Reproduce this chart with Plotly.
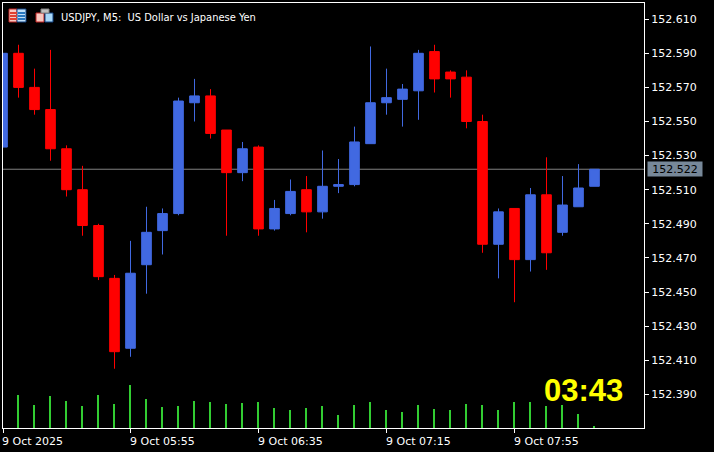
import pandas as pd
import plotly.graph_objects as go

W, H = 714, 452
L, R, T, B = 3, 644, 3, 428

times = pd.date_range("2025-10-09 05:15", periods=38, freq="5min")
opens = [152.535, 152.590, 152.570, 152.557, 152.534, 152.510, 152.489, 152.458, 152.417, 152.466,
         152.486, 152.496, 152.561, 152.565, 152.545, 152.520, 152.535, 152.487, 152.496, 152.510,
         152.497, 152.512, 152.513, 152.537, 152.561, 152.563, 152.568, 152.591, 152.579, 152.576,
         152.550, 152.478, 152.499, 152.469, 152.507, 152.485, 152.500, 152.512]
highs = [152.590, 152.595, 152.581, 152.592, 152.536, 152.524, 152.490, 152.460, 152.480, 152.500,
         152.499, 152.564, 152.575, 152.569, 152.545, 152.538, 152.536, 152.504, 152.516, 152.518,
         152.533, 152.528, 152.547, 152.594, 152.581, 152.572, 152.592, 152.595, 152.580, 152.580,
         152.554, 152.499, 152.499, 152.511, 152.529, 152.518, 152.525, 152.522]
lows = [152.535, 152.564, 152.554, 152.527, 152.506, 152.483, 152.457, 152.405, 152.412, 152.449,
        152.472, 152.495, 152.550, 152.540, 152.483, 152.515, 152.483, 152.486, 152.495, 152.485,
        152.493, 152.508, 152.512, 152.537, 152.554, 152.547, 152.551, 152.567, 152.564, 152.546,
        152.473, 152.458, 152.444, 152.462, 152.463, 152.483, 152.500, 152.512]
closes = [152.590, 152.570, 152.557, 152.534, 152.510, 152.489, 152.459, 152.415, 152.461, 152.485,
          152.496, 152.562, 152.565, 152.543, 152.520, 152.534, 152.487, 152.499, 152.509, 152.497,
          152.512, 152.513, 152.538, 152.561, 152.564, 152.569, 152.590, 152.575, 152.575, 152.550,
          152.478, 152.497, 152.469, 152.507, 152.473, 152.501, 152.511, 152.522]
tick_volume = [None, 99, 69, 96, 81, 66, 99, 72, 129, 87, 63, 66, 81, 78, 72, 75, 78, 60, 54, 60,
               66, 39, 69, 78, 54, 48, 69, 57, 54, 72, 69, 54, 78, 78, 66, 69, 42, 6]
price_ticks = [152.390, 152.410, 152.430, 152.450, 152.470, 152.490, 152.510,
               152.530, 152.550, 152.570, 152.590, 152.610]
date_ticks = ["2025-10-09 05:55", "2025-10-09 06:35", "2025-10-09 07:15", "2025-10-09 07:55"]
date_labels = ["9 Oct 05:55", "9 Oct 06:35", "9 Oct 07:15", "9 Oct 07:55"]
first_label = "9 Oct 2025"
last_price = 152.522
title_text = "USDJPY, M5:  US Dollar vs Japanese Yen"
timer_text = "03:43"

PX_PER_BAR = 16
bar_ms = 300000
ms_px = bar_ms / PX_PER_BAR
t0 = times[0]
x_start = t0 + pd.Timedelta(milliseconds=(L - 2.5) * ms_px)
x_end = t0 + pd.Timedelta(milliseconds=(R - 2.5) * ms_px)
PX_PER_PRICE = 1705
y_top = 152.590 + (53.3 - T) / PX_PER_PRICE
y_bot = 152.590 - (B - 53.3) / PX_PER_PRICE


def px_x(v):
    return (v - L) / (R - L)


def px_y(v):
    return (B - v) / (B - T)


fig = go.Figure()
fig.add_trace(go.Candlestick(
    x=times, open=opens, high=highs, low=lows, close=closes, whiskerwidth=0,
    increasing=dict(line=dict(color="#4169E1", width=1), fillcolor="#4169E1"),
    decreasing=dict(line=dict(color="#FF0000", width=1), fillcolor="#FF0000"),
    showlegend=False, yaxis="y",
))
fig.add_trace(go.Bar(
    x=times, y=tick_volume, yaxis="y2", marker=dict(color="#32CD32", line=dict(width=0)),
    width=2 * ms_px, offset=-1.5 * ms_px, showlegend=False,
))

anns = [
    dict(x=px_x(59), y=px_y(17), xref="paper", yref="paper", text=title_text, showarrow=False,
         xanchor="left", yanchor="middle", font=dict(color="#FFFFFF", size=11, family="DejaVu Sans Condensed, Liberation Sans")),
    dict(x=px_x(583.5), y=px_y(390), xref="paper", yref="paper", text=timer_text, showarrow=False,
         xanchor="center", yanchor="middle", font=dict(color="#FFFF00", size=31, family="Liberation Sans", weight="bold")),
    dict(x=px_x(647), y=last_price, xref="paper", yref="y", text=f"{last_price:.3f}", showarrow=False,
         xanchor="left", yanchor="middle", bgcolor="#778899", width=52, height=12, borderpad=1,
         font=dict(color="#000000", size=11, family="DejaVu Sans")),
    dict(x=px_x(2), y=px_y(441), xref="paper", yref="paper", text=first_label, showarrow=False,
         xanchor="left", yanchor="middle", xshift=-2, font=dict(color="#FFFFFF", size=11, family="DejaVu Sans")),
]
for t, s in zip(date_ticks, date_labels):
    anns.append(dict(x=t, y=px_y(441), xref="x", yref="paper", text=s, showarrow=False,
                     xanchor="left", yanchor="middle", xshift=-3,
                     font=dict(color="#FFFFFF", size=11, family="DejaVu Sans")))

shapes = [dict(type="line", xref="paper", yref="y", x0=0, x1=1, y0=last_price, y1=last_price,
               line=dict(color="#808080", width=1), layer="below")]


def rect(x0, y0, x1, y1, color, line=None):
    shapes.append(dict(type="rect", xref="paper", yref="paper",
                       x0=px_x(x0), x1=px_x(x1), y0=px_y(y0), y1=px_y(y1),
                       fillcolor=color, line=dict(width=1 if line else 0, color=line or color), layer="above"))


# toolbar icons
rect(9, 9, 17, 22, "#F8C8C0", "#C02020")
rect(17, 9, 26, 22, "#C0E0F8", "#104080")
for yy in (12, 15, 18):
    rect(10, yy, 17, yy + 2, "#E04030")
    rect(18, yy, 25, yy + 2, "#2878C0")
rect(36, 13, 44, 22, "#F8C8C0", "#C02020")
rect(45, 13, 53, 22, "#A8D8F8", "#104080")
rect(41, 9, 49, 13, "#C0C0C0", "#808080")

fig.update_layout(
    width=W, height=H, autosize=False,
    margin=dict(l=L, r=W - R, t=T, b=H - B, pad=0),
    paper_bgcolor="#000000", plot_bgcolor="#000000",
    boxgap=0.14, bargap=0, hovermode=False,
    annotations=anns, shapes=shapes,
    xaxis=dict(
        type="date", range=[x_start, x_end], showgrid=False, zeroline=False,
        rangeslider=dict(visible=False),
        showline=True, mirror=True, linecolor="#FFFFFF", linewidth=1,
        tickvals=[x_start] + date_ticks, ticktext=[""] * 5,
        ticks="outside", ticklen=4, tickwidth=1, tickcolor="#FFFFFF",
    ),
    yaxis=dict(
        side="right", range=[y_bot, y_top], showgrid=False, zeroline=False,
        showline=True, mirror=True, linecolor="#FFFFFF", linewidth=1,
        tickvals=price_ticks, tickformat=".3f",
        ticks="outside", ticklen=4, tickwidth=1, tickcolor="#FFFFFF",
        tickfont=dict(color="#FFFFFF", size=11, family="DejaVu Sans"),
    ),
    yaxis2=dict(overlaying="y", side="right", range=[0, (B - T) * 3], visible=False),
)

fig.write_html("out.html", config=dict(displayModeBar=False),
               post_script="document.body.style.margin='0';document.body.style.background='#000';")
